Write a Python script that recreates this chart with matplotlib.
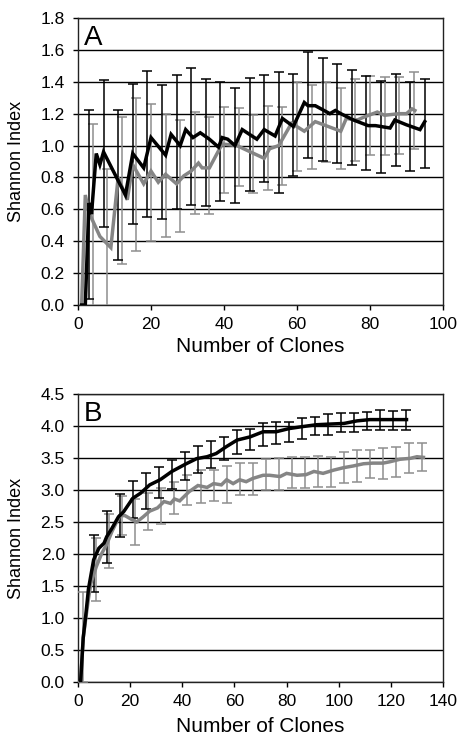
import numpy as np
import matplotlib
matplotlib.use("Agg")
import matplotlib.pyplot as plt

plt.rcParams['font.family'] = ['Liberation Sans', 'DejaVu Sans']

# ---- panel A : line vertices (number of clones, Shannon index)
a_black_x = [1, 2, 3, 3.7, 5, 6, 7, 13, 15, 18, 20, 24, 25.5, 28, 29.5, 31.5, 33.5, 36, 38.5,
             39.5, 41, 43, 45, 49, 51, 54, 56, 59, 62, 63, 65, 69, 70.5, 72, 75.5, 79.5, 81.5,
             85.5, 86.8, 90, 93.7, 95]
a_black_y = [0.0, 0.0, 0.64, 0.57, 0.95, 0.88, 0.96, 0.69, 0.95, 0.86, 1.05, 0.94, 1.07, 1.0, 1.1,
             1.05, 1.08, 1.04, 0.99, 1.05, 1.04, 1.0, 1.1, 1.04, 1.1, 1.06, 1.17, 1.12, 1.27, 1.25,
             1.25, 1.2, 1.22, 1.2, 1.16, 1.125, 1.125, 1.11, 1.16, 1.13, 1.1, 1.15]
a_gray_x = [1, 2, 3, 4, 6, 9, 11, 13.5, 15, 18, 20, 22, 24, 27, 29, 31, 33, 34, 36, 39.5, 43.5,
            51, 52.5, 55, 58.5, 62, 65, 68.5, 72, 73.5, 76.5, 78.5, 82, 84, 88, 90, 91.5, 92.3]
a_gray_y = [0.0, 0.69, 0.58, 0.53, 0.43, 0.36, 0.80, 0.66, 0.88, 0.76, 0.84, 0.77, 0.82, 0.76, 0.81,
            0.84, 0.89, 0.86, 0.86, 1.01, 1.0, 0.92, 0.98, 1.0, 1.14, 1.09, 1.15, 1.12, 1.09, 1.17,
            1.16, 1.18, 1.21, 1.19, 1.2, 1.2, 1.23, 1.22]

# panel A error bars (mean, sd)
a_black_ex = [3, 7, 11, 15, 19, 23, 27, 31, 35, 39, 43, 47, 51, 55, 59, 63, 67, 71, 75, 79, 83, 87, 91, 95]
a_black_em = [0.63, 0.95, 0.75, 0.945, 1.01, 0.96, 1.02, 1.056, 1.02, 1.025, 1.0, 1.07, 1.106, 1.08,
              1.13, 1.255, 1.229, 1.2, 1.175, 1.14, 1.115, 1.16, 1.12, 1.14]
a_black_sd = [0.59, 0.46, 0.47, 0.44, 0.46, 0.42, 0.42, 0.43, 0.40, 0.375, 0.36, 0.354, 0.335, 0.38,
              0.32, 0.33, 0.323, 0.31, 0.30, 0.295, 0.287, 0.287, 0.28, 0.28]
a_gray_ex = [4, 8, 12, 16, 20, 24, 28, 32, 36, 40, 44, 48, 52, 56, 60, 64, 68, 72, 76, 80, 84, 88, 92]
a_gray_em = [0.55, 0.40, 0.72, 0.82, 0.83, 0.81, 0.81, 0.89, 0.875, 0.97, 0.99, 0.945, 0.985, 0.995,
             1.12, 1.115, 1.15, 1.105, 1.163, 1.19, 1.185, 1.19, 1.22]
a_gray_sd = [0.585, 0.45, 0.46, 0.48, 0.43, 0.385, 0.35, 0.32, 0.305, 0.27, 0.245, 0.245, 0.265, 0.245,
             0.28, 0.265, 0.25, 0.255, 0.257, 0.248, 0.245, 0.24, 0.24]

# ---- panel B
b_black_x = [1, 2, 3, 4, 6, 8, 10, 11, 13, 15.5, 17.5, 21, 24, 27.5, 31.5, 36, 41.5, 45.5, 49.5, 53,
             57, 61, 66, 71, 76, 81, 86, 91.5, 96.5, 102, 107, 112, 117, 121, 126]
b_black_y = [0.0, 0.69, 1.05, 1.45, 1.91, 2.09, 2.17, 2.27, 2.40, 2.58, 2.66, 2.87, 2.95, 3.08, 3.16,
             3.29, 3.41, 3.49, 3.52, 3.57, 3.68, 3.78, 3.83, 3.91, 3.91, 3.96, 3.99, 4.02, 4.03, 4.04,
             4.08, 4.10, 4.10, 4.10, 4.10]
b_gray_x = [1, 2, 3, 4, 5, 7, 9, 11, 13, 16, 18, 21, 22.5, 25, 27.5, 30.5, 33, 35.5, 37, 39, 42.5, 46,
            49.5, 52, 55, 57, 59.5, 62, 64.5, 67, 71, 73.5, 77.5, 80, 84, 87.5, 90.5, 94, 98, 102,
            105.5, 109.5, 113, 117, 119.5, 123.5, 127.5, 130, 132.5]
b_gray_y = [0.0, 0.69, 1.0, 1.3, 1.55, 1.8, 2.0, 2.15, 2.35, 2.6, 2.6, 2.53, 2.50, 2.58, 2.67, 2.72,
            2.82, 2.79, 2.86, 2.83, 2.97, 3.07, 3.04, 3.10, 3.08, 3.16, 3.10, 3.16, 3.13, 3.18, 3.23,
            3.23, 3.21, 3.26, 3.23, 3.24, 3.29, 3.26, 3.31, 3.35, 3.375, 3.41, 3.42, 3.42, 3.44, 3.48,
            3.495, 3.52, 3.51]

b_black_ex = [6, 11, 16, 21, 26, 31, 36, 41, 46, 51, 56, 61, 66, 71, 76, 81, 86, 91, 96, 101, 106,
              111, 116, 121, 126]
b_black_em = [1.85, 2.265, 2.595, 2.85, 2.985, 3.115, 3.24, 3.38, 3.48, 3.55, 3.65, 3.75, 3.79, 3.865,
              3.89, 3.91, 3.96, 4.0, 4.02, 4.05, 4.06, 4.08, 4.10, 4.09, 4.10]
b_black_sd = [0.45, 0.405, 0.335, 0.29, 0.275, 0.245, 0.23, 0.22, 0.21, 0.21, 0.18, 0.19, 0.17, 0.175,
              0.17, 0.16, 0.16, 0.14, 0.165, 0.15, 0.15, 0.14, 0.155, 0.15, 0.155]
b_gray_ex = [2, 7, 12, 17, 22, 27, 32, 37, 42, 47, 52, 57, 62, 67, 72, 77, 82, 87, 92, 97, 102, 107,
             112, 117, 122, 127, 132]
b_gray_em = [0.70, 1.76, 2.2, 2.6, 2.50, 2.66, 2.75, 2.87, 3.0, 3.05, 3.07, 3.08, 3.17, 3.17, 3.24,
             3.25, 3.27, 3.27, 3.285, 3.28, 3.355, 3.38, 3.40, 3.41, 3.44, 3.50, 3.52]
b_gray_sd = [0.70, 0.49, 0.42, 0.30, 0.36, 0.29, 0.28, 0.25, 0.23, 0.26, 0.245, 0.29, 0.255, 0.25,
             0.24, 0.25, 0.24, 0.245, 0.245, 0.24, 0.245, 0.25, 0.22, 0.24, 0.23, 0.23, 0.22]

GRAY = "#858585"
GRAY_BAR = "#8e8e8e"


def panel(ax, letter, bx, by, gx, gy, bex, bem, bsd, gex, gem, gsd, xmax, ymax, ystep):
    # error bars first, lines on top
    ax.errorbar(gex, gem, yerr=gsd, fmt="none", ecolor=GRAY_BAR, elinewidth=1.1,
                capsize=3.5, capthick=1.1, zorder=3)
    ax.errorbar(bex, bem, yerr=bsd, fmt="none", ecolor="black", elinewidth=1.1,
                capsize=3.5, capthick=1.1, zorder=4)
    ax.plot(gx, gy, color=GRAY, lw=2.5, zorder=5, solid_joinstyle="miter")
    ax.plot(bx, by, color="black", lw=2.5, zorder=6, solid_joinstyle="miter")

    ax.set_xlim(0, xmax)
    ax.set_ylim(0, ymax)
    ax.set_xticks(np.arange(0, xmax + 1, 20))
    yt = np.arange(0, ymax + ystep / 2, ystep)
    ax.set_yticks(yt)
    ax.set_yticklabels(["%.1f" % v for v in yt])
    ax.yaxis.grid(True, color="black", lw=1.0)
    ax.set_axisbelow(True)
    for s in ax.spines.values():
        s.set_linewidth(1.0)
        s.set_color("#222222")
    ax.tick_params(axis="both", direction="out", length=3.5, width=1.0, labelsize=12.5,
                   colors="black")
    ax.tick_params(axis="y", pad=6)
    ax.tick_params(axis="x", pad=5)
    ax.set_ylabel("Shannon Index", fontsize=13)
    ax.yaxis.set_label_coords(-0.145, 0.5)
    ax.set_xlabel("Number of Clones", fontsize=15)
    ax.text(0.015, 0.975, letter, transform=ax.transAxes, fontsize=20, va="top", ha="left")


fig = plt.figure(figsize=(4.6, 7.36), dpi=100)

axA = fig.add_axes([78 / 460, 1 - 305 / 736, 365 / 460, 287 / 736])
panel(axA, "A", a_black_x, a_black_y, a_gray_x, a_gray_y,
      a_black_ex, a_black_em, a_black_sd, a_gray_ex, a_gray_em, a_gray_sd, 100, 1.8, 0.2)
axA.xaxis.set_label_coords(0.5, -0.112)

axB = fig.add_axes([78 / 460, 1 - 682 / 736, 365 / 460, 288 / 736])
panel(axB, "B", b_black_x, b_black_y, b_gray_x, b_gray_y,
      b_black_ex, b_black_em, b_black_sd, b_gray_ex, b_gray_em, b_gray_sd, 140, 4.5, 0.5)
axB.xaxis.set_label_coords(0.5, -0.122)

fig.savefig("out.png", dpi=100)
